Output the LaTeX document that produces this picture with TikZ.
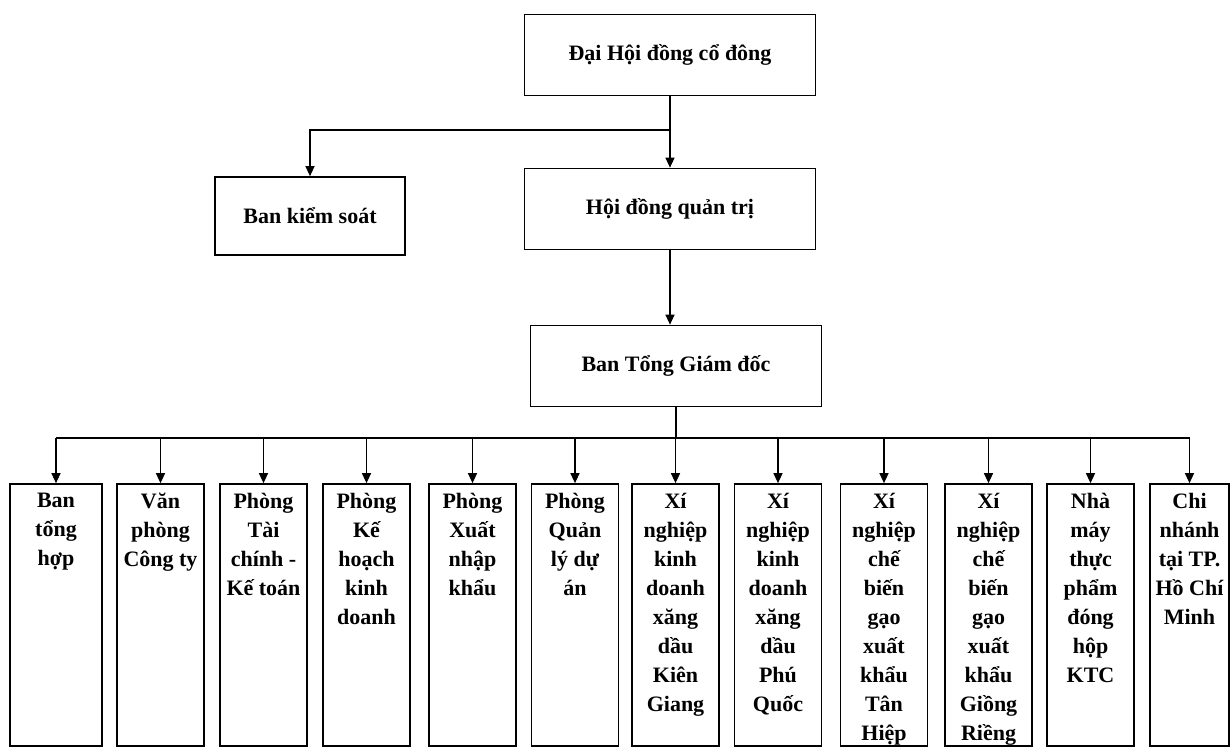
\documentclass[tikz,border=0pt]{standalone}
\usepackage{fontspec}
\setmainfont{Liberation Serif}
\usetikzlibrary{arrows.meta}
\begin{document}
\begin{tikzpicture}[x=1pt,y=-1pt,
  box/.style={draw, line width=1.7pt, inner sep=0pt, font=\fontsize{22}{29}\selectfont\bfseries},
  topbox/.style={box, minimum width=291pt, minimum height=81pt},
  colbox/.style={draw, line width=1.7pt, minimum width=87pt, minimum height=262pt, inner sep=0pt},
  coltext/.style={anchor=north, align=center, inner sep=0pt, yshift=-10pt, font=\fontsize{22}{29}\selectfont\bfseries},
  arr/.style={line width=1.3pt, -{Triangle[length=10pt,width=9pt]}},
  ln/.style={line width=1.3pt}]
\fill[white] (0,0) rectangle (1231,748);
\useasboundingbox (0,0) rectangle (1231,748);

% upper levels
\node[topbox] (dh) at (670,55) {Đại Hội đồng cổ đông};
\node[topbox] (hd) at (670,209) {Hội đồng quản trị};
\node[topbox] (bt) at (676,366) {Ban Tổng Giám đốc};
\node[box, minimum width=190pt, minimum height=78pt] (bk) at (310,216) {Ban kiểm soát};

\coordinate (j1) at (670,130);
\draw[arr] (dh.south) -- (hd.north);
\draw[arr] (j1) -| (bk.north);
\draw[arr] (hd.south) -- (hd.south |- bt.north);

% lower level
\node[colbox, minimum width=92pt] (b1) at (56,615) {};
\node[colbox] (b2) at (160.5,615) {};
\node[colbox] (b3) at (263.5,615) {};
\node[colbox] (b4) at (366.5,615) {};
\node[colbox] (b5) at (472.5,615) {};
\node[colbox] (b6) at (575,615) {};
\node[colbox] (b7) at (675.5,615) {};
\node[colbox] (b8) at (778,615) {};
\node[colbox] (b9) at (884,615) {};
\node[colbox] (b10) at (988.5,615) {};
\node[colbox] (b11) at (1090.5,615) {};
\node[colbox, minimum width=79pt] (b12) at (1189.5,615) {};

\node[coltext] (t1) at (b1.north) {Ban\\tổng\\hợp};
\node[coltext] (t2) at (b2.north) {Văn\\phòng\\Công ty};
\node[coltext] (t3) at (b3.north) {Phòng\\Tài\\chính -\\Kế toán};
\node[coltext] (t4) at (b4.north) {Phòng\\Kế\\hoạch\\kinh\\doanh};
\node[coltext] (t5) at (b5.north) {Phòng\\Xuất\\nhập\\khẩu};
\node[coltext] (t6) at (b6.north) {Phòng\\Quản\\lý dự\\án};
\node[coltext] (t7) at (b7.north) {Xí\\nghiệp\\kinh\\doanh\\xăng\\dầu\\Kiên\\Giang};
\node[coltext] (t8) at (b8.north) {Xí\\nghiệp\\kinh\\doanh\\xăng\\dầu\\Phú\\Quốc};
\node[coltext] (t9) at (b9.north) {Xí\\nghiệp\\chế\\biến\\gạo\\xuất\\khẩu\\Tân\\Hiệp};
\node[coltext] (t10) at (b10.north) {Xí\\nghiệp\\chế\\biến\\gạo\\xuất\\khẩu\\Giồng\\Riềng};
\node[coltext] (t11) at (b11.north) {Nhà\\máy\\thực\\phẩm\\đóng\\hộp\\KTC};
\node[coltext] (t12) at (b12.north) {Chi\\nhánh\\tại TP.\\Hồ Chí\\Minh};

\coordinate (bus) at (676,438);
\draw[ln] (bt.south) -- (bus);
\draw[ln] (b1.north |- bus) -- (b12.north |- bus);
\foreach \i in {1,...,12} {
  \draw[arr] (b\i.north |- bus) -- (b\i.north);
}
\end{tikzpicture}
\end{document}
